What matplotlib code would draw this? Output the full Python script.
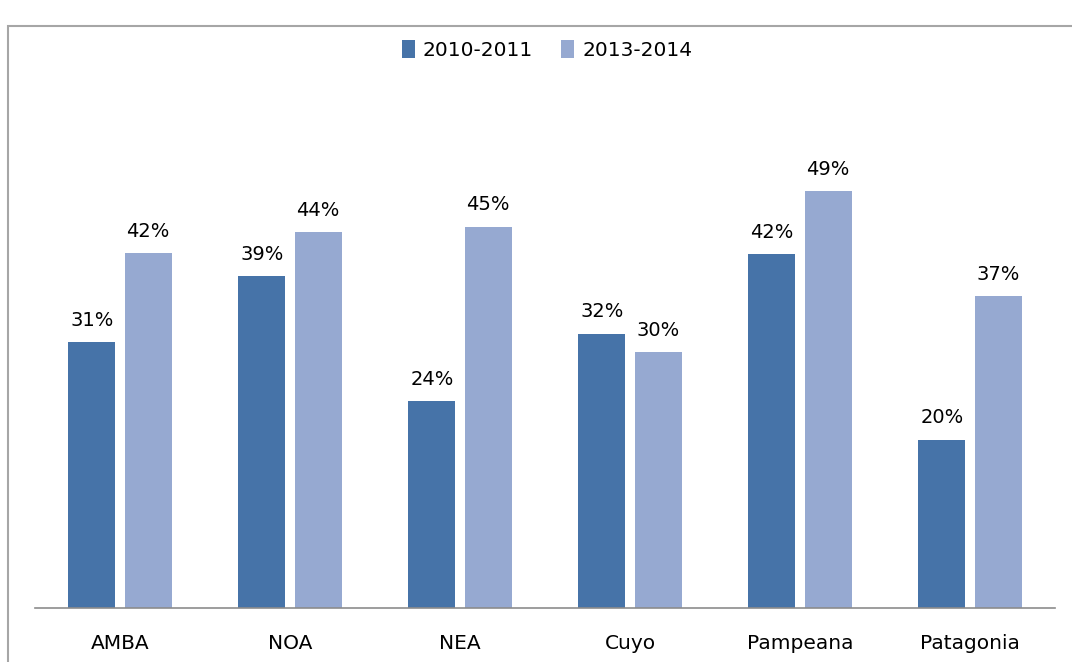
import numpy as np
from matplotlib import pyplot as plt
from matplotlib.patches import Rectangle

regiones = ["AMBA", "NOA", "NEA", "Cuyo", "Pampeana", "Patagonia"]
serie_2010 = [31.4, 39.2, 24.4, 32.4, 41.8, 19.9]
serie_2013 = [41.9, 44.4, 45.0, 30.2, 49.2, 36.8]
etiquetas = ["2010-2011", "2013-2014"]

plt.rcParams["font.family"] = ["DejaVu Sans"]

fig = plt.figure(figsize=(10.72, 6.62), dpi=100)
# marco gris del grafico
fig.patches.append(Rectangle((8/1072, -0.05), 1.2, 1 - 26/662 + 0.05,
                             transform=fig.transFigure, fill=False,
                             edgecolor="#a6a6a6", linewidth=1.5))

ax = fig.add_axes([35/1072, 1 - 608/662, 1020/1072, 508/662])
x = np.arange(len(regiones))
w, off = 0.276, 0.165
b1 = ax.bar(x - off, serie_2010, w, color="#4673A8", label=etiquetas[0])
b2 = ax.bar(x + off, serie_2013, w, color="#96A9D1", label=etiquetas[1])

for bars, vals in ((b1, serie_2010), (b2, serie_2013)):
    for b, v in zip(bars, vals):
        ax.annotate("{:.0f}%".format(v), xy=(b.get_x() + b.get_width()/2, v),
                    xytext=(0, 9), textcoords="offset points",
                    ha="center", va="bottom", fontsize=14)

ax.set_xlim(-0.5, 5.5)
ax.set_ylim(0, 60)
ax.set_xticks(x)
ax.set_xticklabels(regiones, fontsize=14.5)
ax.tick_params(axis="x", length=0, pad=19)
ax.set_yticks([])
for s in ("top", "right", "left"):
    ax.spines[s].set_visible(False)
ax.spines["bottom"].set_color("#8c8c8c")
ax.spines["bottom"].set_linewidth(1.2)

fig.legend(loc="center", bbox_to_anchor=(547/1072, 1 - 50/662), ncol=2,
           frameon=False, fontsize=14.5, handlelength=0.65, handleheight=1.0,
           handletextpad=0.4, columnspacing=1.4)

fig.savefig("out.png", dpi=100)
